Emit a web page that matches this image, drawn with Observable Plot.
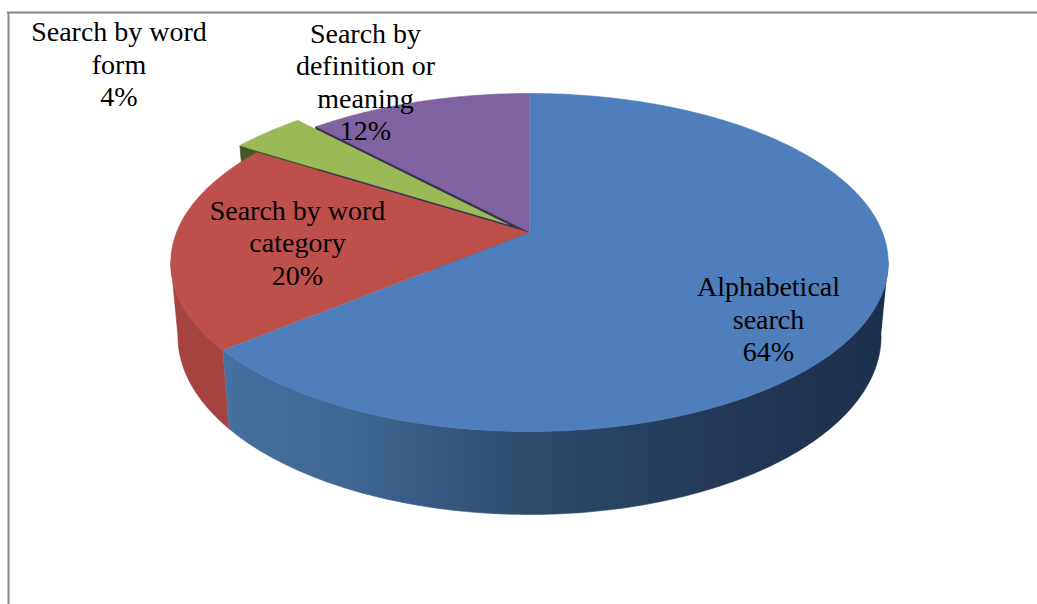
<!DOCTYPE html>
<html>
<head>
<meta charset="utf-8">
<script src="https://cdn.jsdelivr.net/npm/d3@7"></script>
<script src="https://cdn.jsdelivr.net/npm/@observablehq/plot@0.6"></script>
<style>
html,body{margin:0;padding:0;background:#fff;}
svg{display:block;}
</style>
</head>
<body>
<div id="chart"></div>
<script>
// Data
const categories = ["Alphabetical\nsearch", "Search by word\ncategory", "Search by word\nform", "Search by\ndefinition or\nmeaning"];
const shares = [64, 20, 4, 12];
const topColors = ["#4e7ebb", "#be504c", "#9aba58", "#7f63a1"];

// Layout of the pseudo-3D pie
const W = 1037, H = 604;
const labelX = [768, 297, 118.5, 365];
const labelY = [318, 241.5, 63, 80.5];
const explode = [0, 0, 0.08, 0];
const k = 0.1775;
const topFace = {cx: 529, cy: 232, b: 353, a: 163.7};
const botFace = {cx: 529, cy: 304, b: 346, a: 172.7};
const frameGray = "#868686";

const rad = d => d * Math.PI / 180;
function project(face, X, Y) {
  const s = 1 / (1 + k * Y);
  return {x: face.cx + face.b * X * s, y: face.cy - face.a * Y * s};
}
const total = d3.sum(shares);
let acc = 0;
const slices = shares.map((v, i) => {
  const start = acc / total * 360;
  acc += v;
  const end = acc / total * 360;
  const mid = (start + end) / 2;
  return {start, end, ox: explode[i] * Math.sin(rad(mid)), oy: explode[i] * Math.cos(rad(mid)), color: topColors[i]};
});
const rim = (face, s, deg) => project(face, s.ox + Math.sin(rad(deg)), s.oy + Math.cos(rad(deg)));
const centre = (face, s) => project(face, s.ox, s.oy);
function arc(face, s, d0, d1) {
  const n = Math.max(2, Math.ceil(Math.abs(d1 - d0)));
  return d3.range(n + 1).map(i => rim(face, s, d0 + (d1 - d0) * i / n));
}
const topPoly = s => [centre(topFace, s), ...arc(topFace, s, s.start, s.end)];
const wall = (s, d0, d1) => [...arc(topFace, s, d0, d1), ...arc(botFace, s, d0, d1).reverse()];
const innerFace = (s, deg) => [centre(topFace, s), rim(topFace, s, deg), rim(botFace, s, deg), centre(botFace, s)];

const poly = (pts, fill) => Plot.line(pts, {x: "x", y: "y", fill, stroke: fill, strokeWidth: 0.6});

const gradient = () => {
  const defs = d3.create("svg:defs");
  const g = defs.append("linearGradient").attr("id", "sideBlue")
    .attr("gradientUnits", "userSpaceOnUse")
    .attr("x1", 224).attr("x2", 885).attr("y1", 0).attr("y2", 0);
  [[0, "#45709f"], [0.2, "#3e6692"], [0.46, "#2e4b6d"], [0.72, "#243a58"], [1, "#1c2f4a"]]
    .forEach(([o, c]) => g.append("stop").attr("offset", o).attr("stop-color", c));
  return defs.node();
};

const [blue, red, green, purple] = slices;

const plot = Plot.plot({
  width: W, height: H,
  margin: 0,
  x: {domain: [0, W], range: [0, W], axis: null},
  y: {domain: [0, H], range: [0, H], axis: null},
  style: {background: "#fff"},
  marks: [
    gradient,
    // chart frame
    Plot.ruleY([12], {x1: 7, x2: W, stroke: frameGray, strokeWidth: 2}),
    Plot.ruleX([8], {y1: 12, y2: H, stroke: frameGray, strokeWidth: 2}),
    // walls
    poly(wall(blue, 100, blue.end), "url(#sideBlue)"),
    poly(wall(red, red.start, 260), "#a4433f"),
    // tops, back to front
    poly(topPoly(purple), purple.color),
    poly(innerFace(green, green.start), "#47562a"),
    poly(innerFace(purple, purple.start), "#3b2f52"),
    poly(topPoly(green), green.color),
    poly(topPoly(red), red.color),
    poly(topPoly(blue), blue.color),
    // labels
    Plot.text(categories, {
      x: (d, i) => labelX[i],
      y: (d, i) => labelY[i],
      text: (d, i) => `${d}\n${shares[i]}%`,
      fontFamily: "Liberation Serif",
      fontSize: 28,
      lineHeight: 1.16,
      fill: "#000",
      textAnchor: "middle"
    })
  ]
});
document.getElementById("chart").append(plot);
</script>
</body>
</html>
